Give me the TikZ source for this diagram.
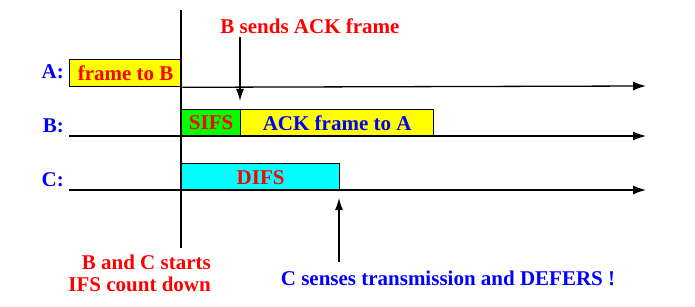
\documentclass[tikz,border=0pt]{standalone}
\usepackage{fontspec}
\setmainfont{Liberation Serif}[BoldFont={Liberation Serif Bold}]
\usetikzlibrary{arrows.meta,positioning}
\definecolor{red}{HTML}{FF0000}
\definecolor{blue}{HTML}{0000FF}
\definecolor{yellow}{HTML}{FFFF00}
\definecolor{green}{HTML}{00FF00}
\definecolor{cyan}{HTML}{00FFFF}
\tikzset{
  base/.style={font=\rmfamily\bfseries\fontsize{21}{22}\selectfont,inner sep=0pt},
  station/.style={base,text=blue,anchor=east},
  note/.style={base,align=right},
  slot/.style={base,draw=black,line width=1.3pt,minimum height=27pt,anchor=north west},
  frame/.style={slot,fill=yellow},
  sifs/.style={slot,fill=green,text=red},
  difs/.style={slot,fill=cyan,text=red},
  timeline/.style={-{Latex[length=13pt,width=9pt]},line width=1.3pt,draw=black},
  flow/.style={-{Latex[length=12pt,width=8pt]},line width=1.3pt,draw=black}
}
\begin{document}
\begin{tikzpicture}[x=1pt,y=-1pt]
\useasboundingbox (0,0) rectangle (695,307);

% stations
\node[station] (labA) at (64,72) {A:};
\node[station] (labB) at (64,126) {B:};
\node[station] (labC) at (64,180) {C:};

% time axes
\coordinate (endA) at (646,86);
\coordinate (startB) at (69,136);
\coordinate (endB) at (646,136);
\coordinate (startC) at (69,190);
\coordinate (endC) at (646,190);
\coordinate (vtop) at (181,10);
\coordinate (vbot) at (181,248);

% frames
\node[frame,text=red,minimum width=112pt] (data) at (69,59) {frame to B};
\node[sifs,minimum width=59pt] (sifs) at (181,109) {SIFS};
\node[frame,text=blue,minimum width=193pt] (ack) at (240,109) {ACK frame to A};
\node[difs,minimum width=158pt] (difs) at (181,163) {DIFS};

\draw[timeline] (data.south east) -- (endA);
\draw[timeline] (startB) -- (endB);
\draw[timeline] (startC) -- (endC);
\draw[line width=1.3pt] (vtop) -- (vbot);

% annotations
\node[base,text=red] (sends) at (310,26) {B sends ACK frame};
\coordinate (sendsTop) at (240,37);
\coordinate (sendsTip) at (240,101);
\draw[flow] (sendsTop) -- (sendsTip);

\node[note,text=red,anchor=north east] (start) at (211,255) {B and C starts\\IFS count down};

\node[base,text=blue] (senses) at (448,278) {C senses transmission and DEFERS !};
\coordinate (sensesBot) at (339,262);
\coordinate (sensesTip) at (339,198);
\draw[flow] (sensesBot) -- (sensesTip);
\end{tikzpicture}
\end{document}
